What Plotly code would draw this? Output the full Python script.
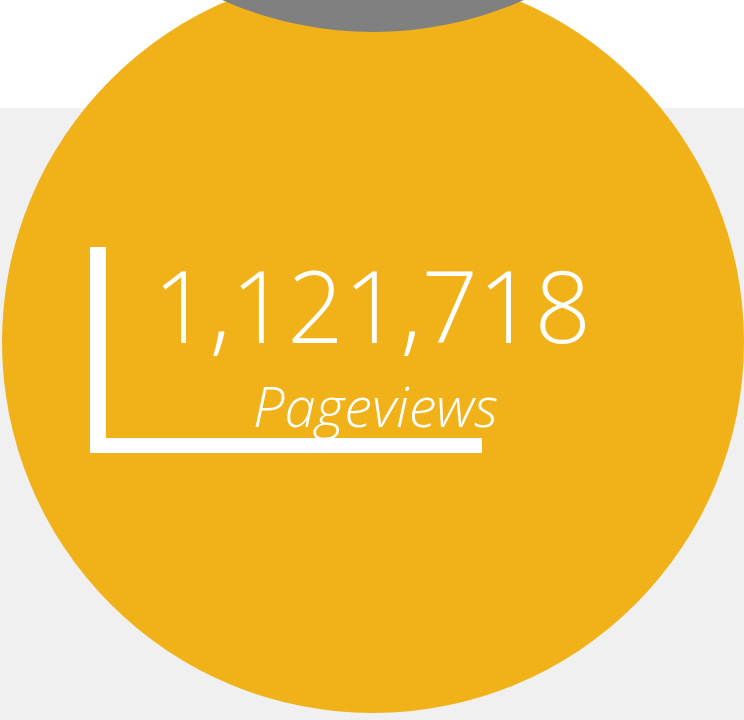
import plotly.graph_objects as go

# Data
metric_value = [1121718]
metric_label = ["Pageviews"]

W, H = 744, 720
YELLOW = "#F0B218"
GREY = "#808080"
BG = "#F0F0F0"

fig = go.Figure()

shapes = [
    dict(type="rect", x0=0, x1=W, y0=108, y1=H, fillcolor=BG, line_width=0, layer="below"),
    dict(type="circle", x0=373 - 371, x1=373 + 371, y0=342 - 371, y1=342 + 371,
         fillcolor=YELLOW, line_width=0, layer="below"),
    dict(type="circle", x0=373 - 372, x1=373 + 372, y0=-340 - 372, y1=-340 + 372,
         fillcolor=GREY, line_width=0, layer="below"),
    dict(type="rect", x0=90, x1=106, y0=247, y1=453, fillcolor="white", line_width=0, layer="below"),
    dict(type="rect", x0=90, x1=482, y0=438, y1=453, fillcolor="white", line_width=0, layer="below"),
]

annotations = [
    dict(x=372, y=304, xref="x", yref="y", text=f"{metric_value[0]:,}", showarrow=False,
         xanchor="center", yanchor="middle",
         font=dict(family="Open Sans", size=99, color="white", weight=300)),
    dict(x=375, y=405, xref="x", yref="y", text=metric_label[0], showarrow=False,
         xanchor="center", yanchor="middle",
         font=dict(family="Open Sans", size=56, color="white", weight=300, style="italic")),
]

fig.update_layout(
    width=W, height=H,
    margin=dict(l=0, r=0, t=0, b=0),
    paper_bgcolor="white", plot_bgcolor="white",
    xaxis=dict(range=[0, W], visible=False, fixedrange=True),
    yaxis=dict(range=[H, 0], visible=False, fixedrange=True),
    shapes=shapes, annotations=annotations,
    showlegend=False,
)

fig.write_html("out.html", config={"displayModeBar": False},
               post_script="document.body.style.margin='0';document.body.style.overflow='hidden';")
